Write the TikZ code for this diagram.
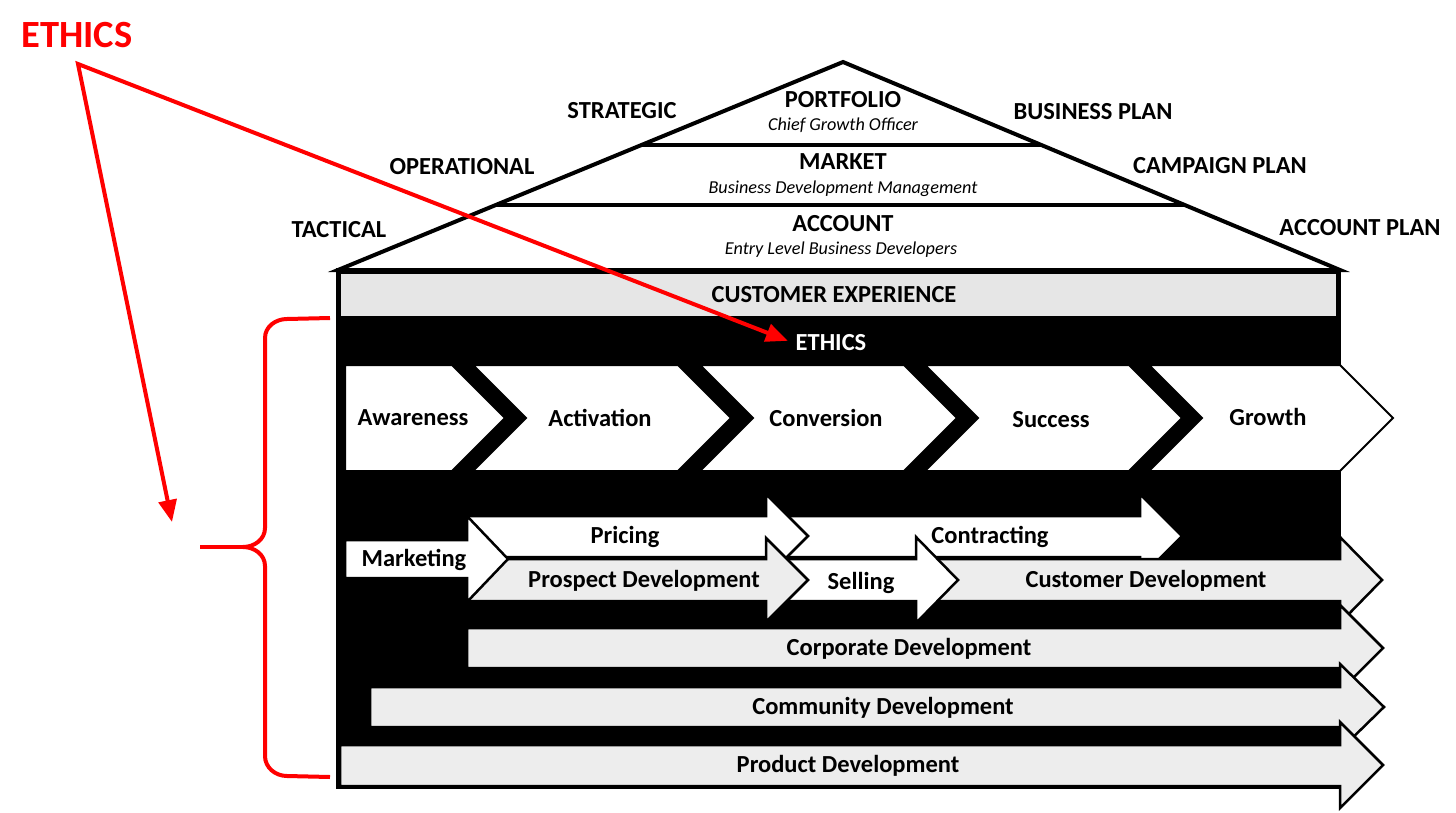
\documentclass[tikz,border=0pt]{standalone}
\usepackage{fontspec}
\setmainfont{Carlito}
\usepackage{tikz}
\usetikzlibrary{arrows.meta, calc}
\definecolor{bandgrey}{RGB}{230,230,230}
\definecolor{bargrey}{RGB}{237,237,237}
\tikzset{
    lbl/.style={font=\fontsize{24.5}{28}\selectfont\bfseries, inner sep=2pt, text height=15.8pt, text depth=0pt},
    sublbl/.style={font=\fontsize{18.2}{21}\selectfont\itshape, inner sep=2pt, text height=11.7pt, text depth=0pt},
    chevron/.style={draw=black, fill=white, line width=2pt, line join=miter},
    blockarrow/.style={draw=black, fill=#1, line width=2.5pt, line join=miter},
    blockarrow/.default=white,
    redline/.style={red, line width=4pt, line join=miter}
}

\begin{document}
\begin{tikzpicture}[x=1pt, y=-1pt, >={Triangle[length=22pt, width=18pt]}]
        \useasboundingbox (0, 0) rectangle (1456, 813);

        \draw[fill = white, line width = 4pt, line join = miter] (338, 270) -- (843, 62) -- (1340, 270) -- cycle;
        \draw[line width = 4pt] (641, 145) -- (1041, 145);
        \draw[line width = 4pt] (496, 205) -- (1185, 205);
        \node[lbl] (portfolio) at (843, 100) {PORTFOLIO};
        \node[sublbl] (cgo) at (843, 125) {Chief Growth Officer};
        \node[lbl] (market) at (843, 162) {MARKET};
        \node[sublbl] (bdm) at (843, 188) {Business Development Management};
        \node[lbl] (account) at (843, 224) {ACCOUNT};
        \node[sublbl] (elbd) at (841, 249) {Entry Level Business Developers};

        \node[lbl] (strategic) at (622, 111) {STRATEGIC};
        \node[lbl] (operational) at (462, 167) {OPERATIONAL};
        \node[lbl] (tactical) at (339, 230) {TACTICAL};
        \node[lbl] (bizplan) at (1093, 112) {BUSINESS PLAN};
        \node[lbl] (campplan) at (1220, 166) {CAMPAIGN PLAN};
        \node[lbl] (accplan) at (1360, 228) {ACCOUNT PLAN};

        \fill[black] (336, 268) rectangle (1341, 789);
        \fill[bandgrey] (341, 274) rectangle (1336, 316);
        \node[lbl] (custexp) at (834, 295) {CUSTOMER EXPERIENCE};
        \node[lbl, white] (ethics) at (831, 343) {ETHICS};

        \draw[chevron] (345, 365) -- (452, 365) -- (505, 418) -- (452, 471) -- (345, 471) -- cycle;
        \node[lbl] (awareness) at (413, 418) {Awareness};
        \draw[chevron] (473, 365) -- (678, 365) -- (731, 418) -- (678, 471) -- (473, 471) -- (526, 418) -- cycle;
        \node[lbl] (activation) at (600, 419) {Activation};
        \draw[chevron] (700, 365) -- (904, 365) -- (957, 418) -- (904, 471) -- (700, 471) -- (753, 418) -- cycle;
        \node[lbl] (conversion) at (826, 419) {Conversion};
        \draw[chevron] (925, 365) -- (1129, 365) -- (1182, 418) -- (1129, 471) -- (925, 471) -- (978, 418) -- cycle;
        \node[lbl] (success) at (1051, 420) {Success};
        \draw[chevron] (1149, 365) -- (1340, 365) -- (1393, 418) -- (1340, 471) -- (1149, 471) -- (1202, 418) -- cycle;
        \node[lbl] (growth) at (1268, 418) {Growth};

        \draw[blockarrow] (787, 516) -- (1140, 516) -- (1140, 494) -- (1182, 536) -- (1140, 578) -- (1140, 557) -- (787, 557) -- cycle;
        \node[lbl] (contracting) at (990, 536) {Contracting};
        \draw[blockarrow] (467, 516) -- (766, 516) -- (766, 494) -- (808, 536) -- (766, 578) -- (766, 557) -- (467, 557) -- cycle;
        \node[lbl] (pricing) at (625, 536) {Pricing};
        \draw[blockarrow = bargrey] (935, 559) -- (1340, 559) -- (1340, 537) -- (1382, 580) -- (1340, 623) -- (1340, 601) -- (935, 601) -- cycle;
        \node[lbl] (custdev) at (1146, 580) {Customer Development};
        \draw[blockarrow] (784, 559) -- (916, 559) -- (916, 537) -- (958, 580) -- (916, 623) -- (916, 601) -- (784, 601) -- cycle;
        \node[lbl] (selling) at (861, 582) {Selling};
        \draw[blockarrow = bargrey] (467, 559) -- (766, 559) -- (766, 538) -- (808, 580) -- (766, 622) -- (766, 601) -- (467, 601) -- cycle;
        \node[lbl] (prospdev) at (644, 580) {Prospect Development};
        \draw[blockarrow] (345, 540) -- (467, 540) -- (467, 516) -- (508, 559) -- (467, 602) -- (467, 578) -- (345, 578) -- cycle;
        \node[lbl] (marketing) at (414, 559) {Marketing};

        \draw[blockarrow = bargrey] (467, 628) -- (1340, 628) -- (1340, 605) -- (1383, 648) -- (1340, 691) -- (1340, 668) -- (467, 668) -- cycle;
        \node[lbl] (corpdev) at (909, 648) {Corporate Development};
        \draw[blockarrow = bargrey] (370, 687) -- (1340, 687) -- (1340, 664) -- (1384, 707) -- (1340, 750) -- (1340, 727) -- (370, 727) -- cycle;
        \node[lbl] (commdev) at (883, 707) {Community Development};
        \draw[blockarrow = bargrey] (340, 745) -- (1340, 745) -- (1340, 722) -- (1383, 765) -- (1340, 808) -- (1340, 786) -- (340, 786) -- cycle;
        \node[lbl] (proddev) at (848, 765) {Product Development};

        \node[lbl, red, font = \fontsize{38.5}{44}\selectfont\bfseries, text height = 24.5pt] (ethicsnote) at (77, 35) {ETHICS};
        \coordinate (fork) at (78, 64);
        \coordinate (bracetip) at (172, 522);
        \draw[redline, <->, shorten <= 6pt] (ethics.west) -- (fork) -- (bracetip);
        \draw[redline] (330, 318) -- (287, 319) to[out = 180, in = 90] (265, 338) -- (265, 528) to[out = -90, in = 0] (243, 547) to[out = 0, in = 90] (265, 566) -- (265, 756) to[out = -90, in = 180] (287, 776) -- (330, 777);
        \draw[redline] (243, 547) -- (200, 547);
    \end{tikzpicture}
\end{document}
